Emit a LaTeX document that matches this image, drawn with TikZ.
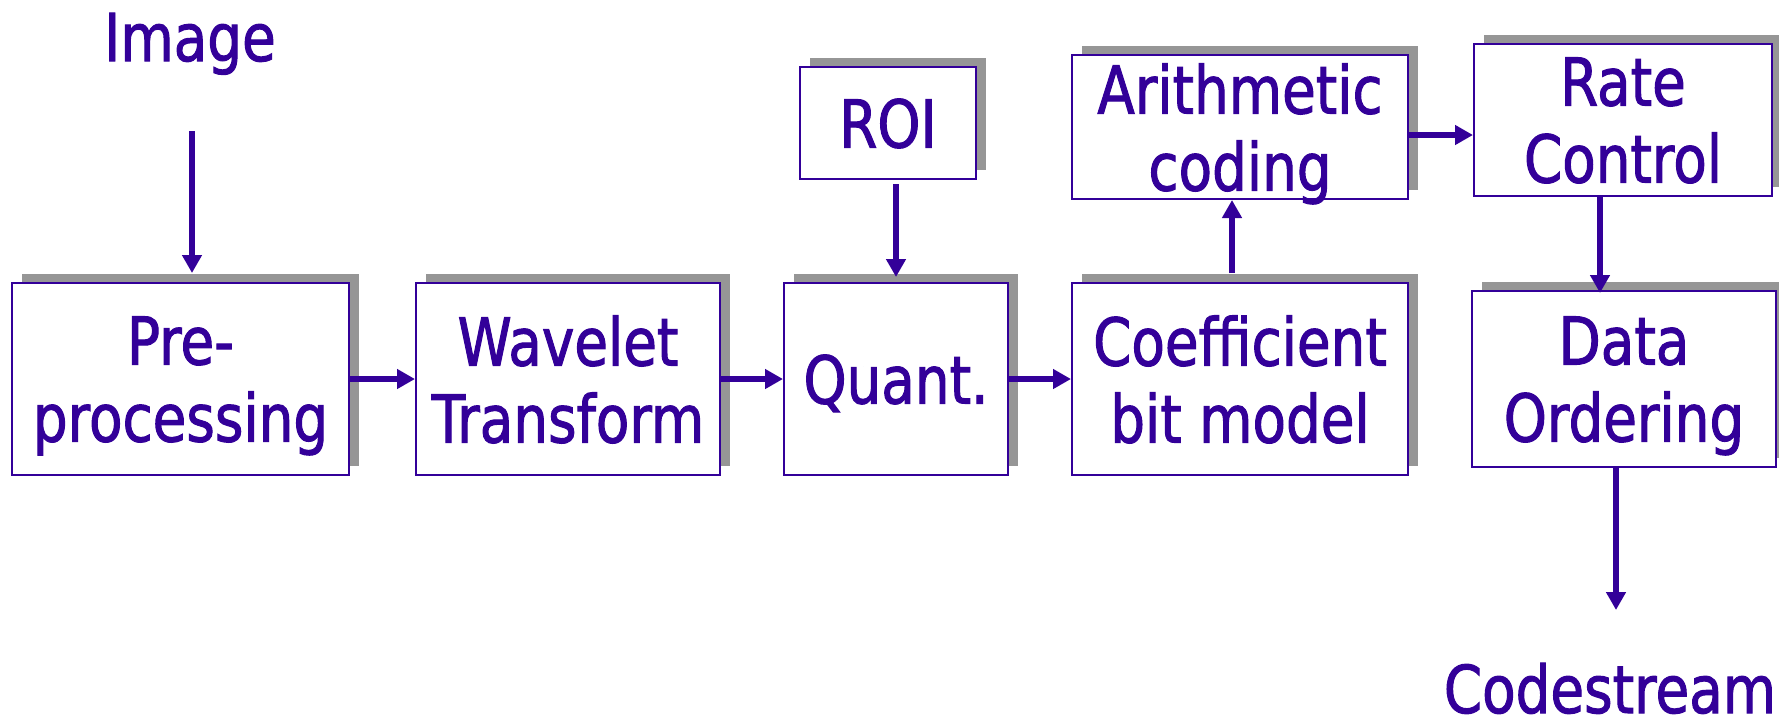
\documentclass[tikz,border=0pt]{standalone}
\usepackage{fontspec}
\setmainfont{DejaVu Sans}[FakeStretch=0.83,FakeBold=1.5]
\usetikzlibrary{arrows.meta,shadows}

\definecolor{ink}{HTML}{330099}
\definecolor{shadowgray}{HTML}{969696}

\tikzset{
  block/.style={draw=ink, line width=1pt, fill=white, text=ink, align=center,
    inner sep=0pt, text depth=0pt, font=\fontsize{33}{38.5}\selectfont,
    drop shadow={shadow xshift=5pt, shadow yshift=4.5pt, fill=shadowgray, opacity=1}},
  endtext/.style={text=ink, inner sep=0pt, font=\fontsize{33}{38.5}\selectfont},
  flow/.style={draw=ink, line width=3pt, -{Triangle[length=9pt,width=9.5pt]}}
}

\begin{document}
\begin{tikzpicture}[x=0.5pt,y=-0.5pt]
        \useasboundingbox (0,0) rectangle (1779,720);

        % input and output
        \node[endtext, anchor=base] (img) at (190,61) {Image};
        \node[endtext, anchor=base] (code) at (1610,713) {Codestream};
        \coordinate (imgout) at (192,131);
        \coordinate (codein) at (1616,610);

        % main chain
        \node[block, minimum width=168.5pt, minimum height=96pt] (pre) at (180.5,379) {Pre-\\processing};
        \node[block, minimum width=152pt, minimum height=96pt] (wav) at (568,379) {Wavelet\\Transform};
        \node[block, minimum width=112pt, minimum height=96pt] (qnt) at (896,379) {Quant.};
        \node[block, minimum width=168pt, minimum height=96pt] (coef) at (1240,379) {Coefficient\\bit model};
        \node[block, minimum width=152pt, minimum height=88pt] (data) at (1624,379) {Data\\Ordering};

        % upper row
        \node[block, minimum width=88pt, minimum height=56pt] (roi) at (888,123) {ROI};
        \node[block, minimum width=168pt, minimum height=72pt] (arith) at (1240,127) {Arithmetic\\coding};
        \node[block, minimum width=149pt, minimum height=76pt] (rate) at (1623,120) {Rate\\Control};

        \draw[flow] (imgout) -- ([xshift=5.75pt,yshift=4.5pt]pre.north);
        \draw[flow] (pre.east) -- (wav.west);
        \draw[flow] (wav.east) -- (qnt.west);
        \draw[flow] (qnt.east) -- (coef.west);
        \draw[flow] ([xshift=4pt,yshift=-2pt]roi.south) -- ([yshift=2.5pt]qnt.north);
        \draw[flow] ([xshift=-4pt,yshift=4.5pt]coef.north) -- ([xshift=-4pt]arith.south);
        \draw[flow] ([yshift=-4pt]arith.east) -- ([yshift=-4pt]arith.east -| rate.west);
        \draw[flow] ([xshift=-11.5pt]rate.south) -- ([xshift=-12pt,yshift=-1.5pt]data.north);
        \draw[flow] ([xshift=-4pt]data.south) -- (codein);
    \end{tikzpicture}
\end{document}
